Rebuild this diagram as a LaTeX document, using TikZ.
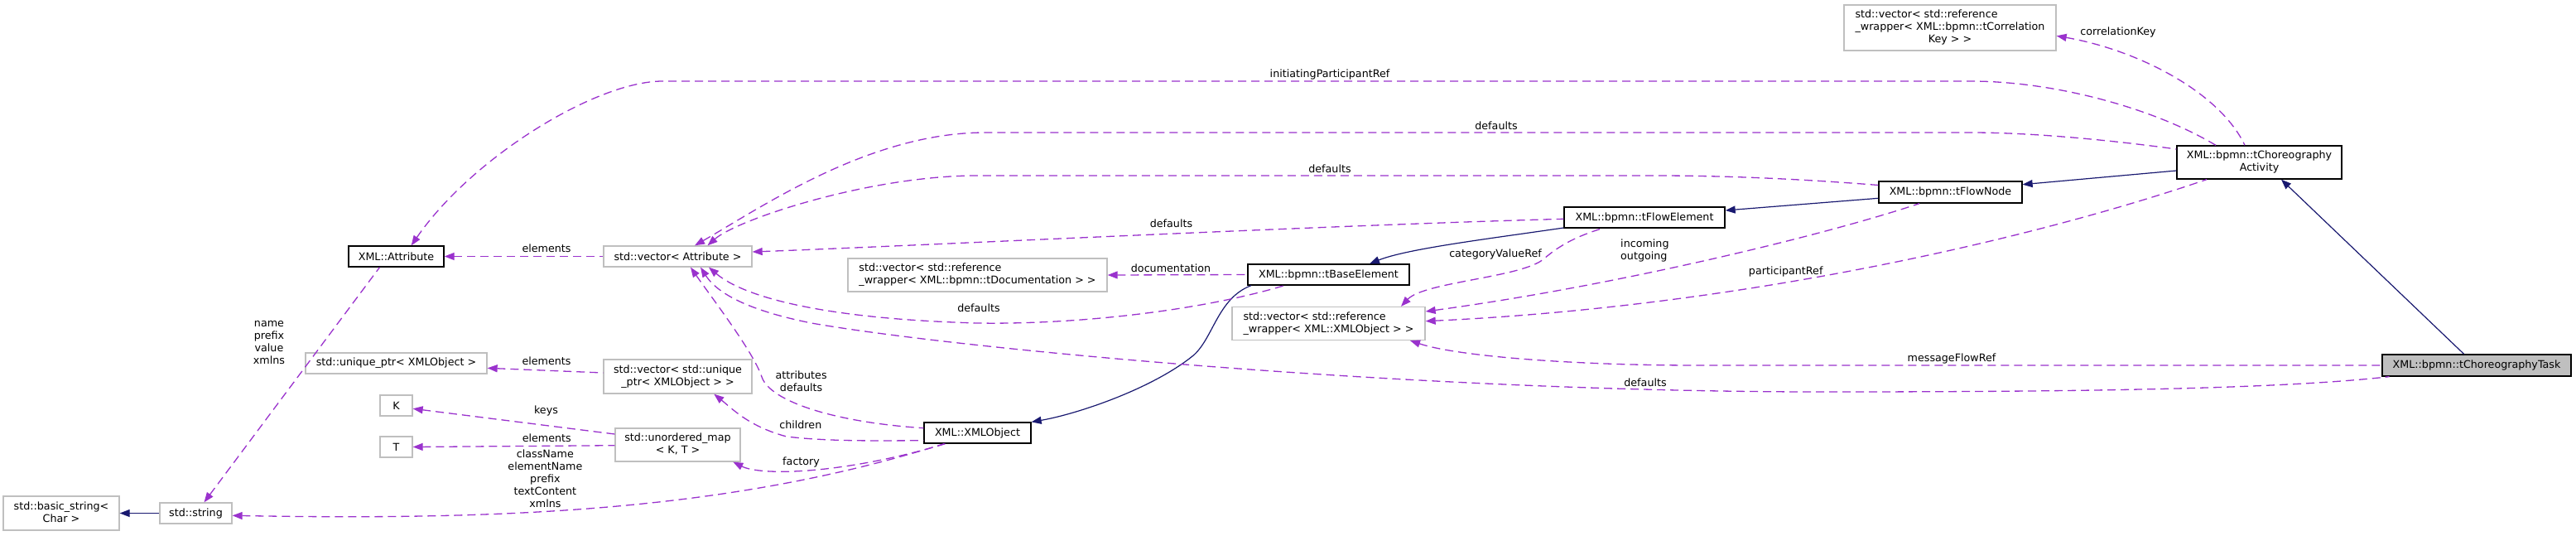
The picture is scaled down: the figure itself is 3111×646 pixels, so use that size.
\documentclass[tikz,border=0pt]{standalone}
\usepackage{fontspec}
\setmainfont{DejaVu Sans}
\usetikzlibrary{arrows.meta}
\definecolor{depc}{HTML}{9A32CD}
\definecolor{inhc}{HTML}{191970}
\definecolor{gbord}{HTML}{BFBFBF}
\definecolor{taskfill}{HTML}{BFBFBF}
\newcommand\dfont{\fontsize{12.7}{15}\selectfont}
\newcommand\twol[2]{\begin{tabular}{@{}l@{}}#1\\\multicolumn{1}{@{}c@{}}{#2}\end{tabular}}
\newcommand\threel[3]{\begin{tabular}{@{}l@{}}#1\\#2\\\multicolumn{1}{@{}c@{}}{#3}\end{tabular}}
\tikzset{
  gbox/.style={draw=gbord, line width=1.3pt, inner sep=0pt, font=\dfont, align=center, fill=white},
  bbox/.style={gbox, draw=black},
  tbox/.style={gbox, draw=black, fill=taskfill},
  depe/.style={color=depc, line width=1.3pt, dash pattern=on 10pt off 6pt, {Triangle[length=12pt,width=9pt]}-},
  inhe/.style={color=inhc, line width=1.2pt, {Triangle[length=12pt,width=9pt]}-},
  lbl/.style={font=\dfont, inner sep=0pt, align=center},
}
\begin{document}
\begin{tikzpicture}[x=1pt,y=-1pt]
\useasboundingbox (0,0) rectangle (3111,646);

% nodes
\node[gbox, minimum width=140pt, minimum height=41pt] (basic) at (74,619.5) {\twol{std::basic\_string<}{Char >}};
\node[gbox, minimum width=87pt, minimum height=25pt] (string) at (236.5,619.5) {std::string};
\node[bbox, minimum width=115pt, minimum height=25pt] (attr) at (478.5,309.5) {XML::Attribute};
\node[gbox, minimum width=219pt, minimum height=25pt] (uptr) at (478.5,438.5) {std::unique\_ptr< XMLObject >};
\node[gbox, minimum width=39pt, minimum height=25pt] (K) at (478.5,489.5) {K};
\node[gbox, minimum width=39pt, minimum height=25pt] (T) at (478.5,539.5) {T};
\node[gbox, minimum width=179pt, minimum height=25pt] (vattr) at (818.5,309.5) {std::vector< Attribute >};
\node[gbox, minimum width=179pt, minimum height=41pt] (vuptr) at (818.5,454.5) {\twol{std::vector< std::unique}{\_ptr< XMLObject > >}};
\node[gbox, minimum width=151pt, minimum height=40pt] (umap) at (818.5,537) {\twol{std::unordered\_map}{< K, T >}};
\node[bbox, minimum width=129pt, minimum height=25pt] (xmlobj) at (1180.5,522.5) {XML::XMLObject};
\node[gbox, minimum width=313pt, minimum height=40pt] (vdoc) at (1180.5,332) {\twol{std::vector< std::reference}{\_wrapper< XML::bpmn::tDocumentation > >}};
\node[bbox, minimum width=195pt, minimum height=25pt] (base) at (1604.5,331.5) {XML::bpmn::tBaseElement};
\node[gbox, minimum width=233pt, minimum height=40pt] (vxml) at (1604.5,390.5) {\twol{std::vector< std::reference}{\_wrapper< XML::XMLObject > >}};
\node[bbox, minimum width=194pt, minimum height=25pt] (flowel) at (1986,262.5) {XML::bpmn::tFlowElement};
\node[bbox, minimum width=173pt, minimum height=26pt] (flownode) at (2355.5,232) {XML::bpmn::tFlowNode};
\node[gbox, minimum width=256pt, minimum height=55pt] (vcorr) at (2355,33.5) {\threel{std::vector< std::reference}{\_wrapper< XML::bpmn::tCorrelation}{Key > >}};
\node[bbox, minimum width=199pt, minimum height=40pt] (activity) at (2728.5,196) {\twol{XML::bpmn::tChoreography}{Activity}};
\node[tbox, minimum width=228pt, minimum height=26pt] (task) at (2991,441) {XML::bpmn::tChoreographyTask};

% inheritance
\draw[inhe] (basic.east) -- (string.west);
\draw[inhe] ([xshift=49.5pt]base.north) .. controls (1700,300) and (1800,288) .. ([yshift=-12.5pt]flowel.west);
\draw[inhe] (xmlobj.north east) .. controls (1300,500) and (1390,470) .. (1440,430) .. controls (1465,410) and (1470,360) .. ([xshift=-93.5pt]base.south);
\draw[inhe] ([yshift=8.5pt]flowel.east) -- ([yshift=-7.3pt]flownode.west);
\draw[inhe] ([yshift=9.3pt]flownode.east) -- ([yshift=-10pt]activity.west);
\draw[inhe] ([xshift=26.5pt]activity.south) -- ([xshift=-15.4pt]task.north);

% usage
\draw[depe] ([xshift=10pt]string.north) -- ([xshift=-20pt]attr.south);
\draw[depe] (attr.east) -- (vattr.west);
\draw[depe] ([yshift=-5.8pt]uptr.east) -- ([yshift=4.5pt]vuptr.west);
\draw[depe] ([yshift=-3.8pt]K.east) -- ([yshift=13pt]umap.west);
\draw[depe] (T.east) -- ([yshift=-0.7pt]umap.west);
\draw[depe] ([xshift=15.5pt]vattr.south) .. controls (860,360) and (910,425) .. (920,455) .. controls (930,485) and (1010,510) .. ([yshift=5.8pt]xmlobj.west);
\draw[depe] ([xshift=43.8pt]vuptr.south) .. controls (885,494) and (905,515) .. (950,527) .. controls (1000,533) and (1060,532) .. ([yshift=-9.2pt]xmlobj.west);
\draw[depe] ([xshift=66.8pt]umap.south) .. controls (920,575) and (1020,572) .. ([xshift=-38.8pt]xmlobj.south);
\draw[depe] ([yshift=-2.8pt]string.east) .. controls (600,628) and (880,618) .. ([xshift=-40.5pt]xmlobj.south);
\draw[depe] ([xshift=37.5pt]vattr.south) .. controls (900,360) and (1000,385) .. (1180,390) .. controls (1300,392) and (1450,375) .. ([xshift=-53.5pt]base.south);
\draw[depe] (vdoc.east) -- (base.west);
\draw[depe] ([yshift=5.5pt]vattr.east) .. controls (1100,297) and (1600,272) .. ([yshift=-1.8pt]flowel.west);
\draw[depe] ([xshift=87.5pt]vxml.north) .. controls (1720,340) and (1840,335) .. (1865,312) .. controls (1885,295) and (1905,285) .. ([xshift=-51pt]flowel.south);
\draw[depe] ([xshift=36pt]vattr.north) .. controls (890,265) and (1050,212) .. (1180,212) -- (2000,212) .. controls (2060,212) and (2150,214) .. ([yshift=8.5pt]flownode.west);
\draw[depe] ([yshift=14.5pt]vxml.east) .. controls (1950,345) and (2200,285) .. ([xshift=-37.5pt]flownode.south);
\draw[depe] ([yshift=-9.8pt]vcorr.east) .. controls (2580,60) and (2680,110) .. ([xshift=-17.5pt]activity.north);
\draw[depe] ([xshift=18.2pt]attr.north) .. controls (570,190) and (720,98) .. (800,98) -- (2380,98) .. controls (2480,98) and (2600,130) .. ([xshift=-52.5pt]activity.north);
\draw[depe] ([xshift=20.5pt]vattr.north) .. controls (920,250) and (1050,160) .. (1190,160) -- (2380,160) .. controls (2450,160) and (2540,168) .. ([yshift=16pt]activity.west);
\draw[depe] ([yshift=2.8pt]vxml.east) .. controls (2100,370) and (2450,290) .. ([xshift=-63.5pt]activity.south);
\draw[depe] ([xshift=98.5pt]vxml.south) .. controls (1760,430) and (1900,441) .. (2050,441) -- (task.west);
\draw[depe] ([xshift=27.5pt]vattr.south) .. controls (870,360) and (920,378) .. (980,390) .. controls (1150,420) and (1700,473) .. (2200,473) .. controls (2500,473) and (2750,470) .. ([xshift=-105.4pt]task.south);

% labels
\node[lbl] (lelem1) at (660,300) {elements};
\node[lbl] (lelem2) at (660,435.3) {elements};
\node[lbl] (lkeys) at (659.5,496) {keys};
\node[lbl] (lelem3) at (660.3,528.3) {elements};
\node[lbl] (lnpvx) at (325,413.7) {name\\prefix\\value\\xmlns};
\node[lbl] (lcls) at (658.4,578) {className\\elementName\\prefix\\textContent\\xmlns};
\node[lbl] (lattrdef) at (967.6,460) {attributes\\defaults};
\node[lbl] (lchildren) at (966.8,512.7) {children};
\node[lbl] (lfactory) at (967.6,558.3) {factory};
\node[lbl] (ldoc) at (1414,323.3) {documentation};
\node[lbl] (ldefbase) at (1182,371.7) {defaults};
\node[lbl] (ldeffe) at (1414.5,270) {defaults};
\node[lbl] (lcvr) at (1806,306.7) {categoryValueRef};
\node[lbl, anchor=west, align=left] (linout) at (1957,302) {incoming\\outgoing};
\node[lbl] (lpart) at (2156.7,328.3) {participantRef};
\node[lbl] (lmsg) at (2357,432.7) {messageFlowRef};
\node[lbl] (ldeftask) at (1987,461.5) {defaults};
\node[lbl] (linit) at (1606,90) {initiatingParticipantRef};
\node[lbl] (ldefact) at (1807,151.7) {defaults};
\node[lbl] (ldeffn) at (1606,203.3) {defaults};
\node[lbl] (lcorr) at (2558,39.3) {correlationKey};
\end{tikzpicture}
\end{document}
